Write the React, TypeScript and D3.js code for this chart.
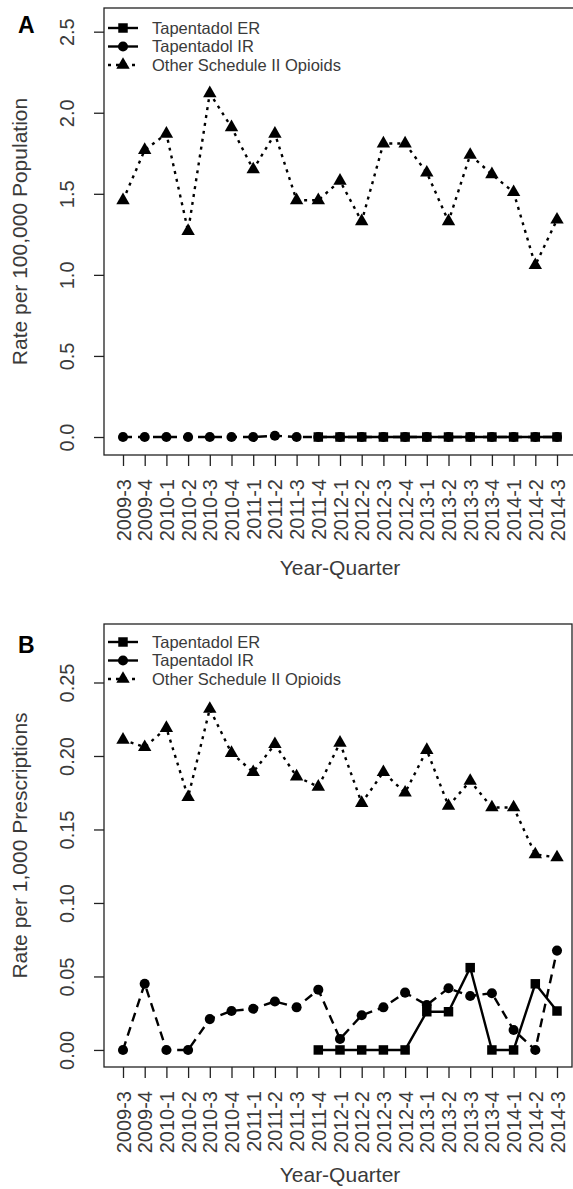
import { useEffect, useRef } from "react";
import * as d3 from "d3";

const quarters = [
  "2009-3", "2009-4", "2010-1", "2010-2", "2010-3", "2010-4", "2011-1",
  "2011-2", "2011-3", "2011-4", "2012-1", "2012-2", "2012-3", "2012-4",
  "2013-1", "2013-2", "2013-3", "2013-4", "2014-1", "2014-2", "2014-3",
];

// panel A: rate per 100,000 population
const popER = [null, null, null, null, null, null, null, null, null, 0, 0, 0, 0, 0, 0, 0, 0, 0, 0, 0, 0];
const popIR = [0, 0, 0, 0, 0, 0, 0, 0.008, 0, 0, 0, 0, 0, 0, 0, 0, 0, 0, 0, 0, 0];
const popOther = [1.46, 1.77, 1.87, 1.27, 2.12, 1.91, 1.65, 1.87, 1.46, 1.46, 1.58, 1.33, 1.81, 1.81, 1.63, 1.33, 1.74, 1.62, 1.51, 1.06, 1.34];
const popTicks = [0, 0.5, 1, 1.5, 2, 2.5];

// panel B: rate per 1,000 prescriptions
const rxER = [null, null, null, null, null, null, null, null, null, 0, 0, 0, 0, 0, 0.026, 0.026, 0.056, 0, 0, 0.045, 0.0265];
const rxIR = [0, 0.045, 0, 0, 0.021, 0.0265, 0.028, 0.033, 0.029, 0.041, 0.0075, 0.0236, 0.029, 0.039, 0.0306, 0.042, 0.0367, 0.0386, 0.0136, 0, 0.0676];
const rxOther = [0.211, 0.206, 0.219, 0.172, 0.232, 0.202, 0.189, 0.208, 0.186, 0.179, 0.209, 0.168, 0.189, 0.175, 0.204, 0.166, 0.183, 0.165, 0.165, 0.133, 0.131];
const rxTicks = [0, 0.05, 0.1, 0.15, 0.2, 0.25];

const seriesNames = ["Tapentadol ER", "Tapentadol IR", "Other Schedule II Opioids"];

const FONT = "'Liberation Sans', Arial, Helvetica, sans-serif";
const TEXT = "#3a3a3a";

function drawPanel(svg, opts) {
  const { top, bottom, right, letter, letterY, yDomain, yTicks, fmt, ylab, legendY, xlabY, series } = opts;
  const left = 104;
  const g = svg.append("g");

  const x = d3.scalePoint().domain(quarters).range([123, 557]);
  const y = d3.scaleLinear().domain(yDomain).range([bottom, top]);

  // box
  g.append("rect")
    .attr("x", left).attr("y", top)
    .attr("width", right - left).attr("height", bottom - top)
    .attr("fill", "none").attr("stroke", "#222").attr("stroke-width", 1.3);

  // y axis
  const ya = g.append("g").attr("transform", `translate(${left},0)`)
    .call(d3.axisLeft(y).tickValues(yTicks).tickSize(10).tickFormat(fmt));
  ya.select(".domain").remove();
  ya.selectAll("line").attr("stroke", "#222").attr("stroke-width", 1.3);
  ya.selectAll("text")
    .attr("transform", "rotate(-90)")
    .attr("x", 0).attr("y", -37).attr("dy", "0.35em")
    .attr("text-anchor", "middle")
    .attr("fill", TEXT).attr("font-size", 20).attr("font-family", FONT);

  // x axis
  const xa = g.append("g").attr("transform", `translate(0,${bottom})`)
    .call(d3.axisBottom(x).tickSize(11));
  xa.select(".domain").remove();
  xa.selectAll("line").attr("stroke", "#222").attr("stroke-width", 1.3);
  xa.selectAll("text")
    .attr("transform", "rotate(-90)")
    .attr("x", -24).attr("y", 0).attr("dy", "0.35em")
    .attr("text-anchor", "end")
    .attr("fill", TEXT).attr("font-size", 20).attr("font-family", FONT);

  g.append("text")
    .attr("x", 340).attr("y", xlabY)
    .attr("text-anchor", "middle")
    .attr("fill", TEXT).attr("font-size", 21).attr("font-family", FONT)
    .text("Year-Quarter");

  g.append("text")
    .attr("transform", `translate(20,${(top + bottom) / 2}) rotate(-90)`)
    .attr("dy", "0.35em")
    .attr("text-anchor", "middle")
    .attr("fill", TEXT).attr("font-size", 21).attr("font-family", FONT)
    .text(ylab);

  g.append("text")
    .attr("x", 18).attr("y", letterY)
    .attr("fill", "#000").attr("font-size", 23).attr("font-weight", "bold").attr("font-family", FONT)
    .text(letter);

  const styles = [
    { dash: null, sym: d3.symbolSquare, size: 90 },
    { dash: "9,6", sym: d3.symbolCircle, size: 80 },
    { dash: "3,5", sym: d3.symbolTriangle, size: 78 },
  ];

  series.forEach((vals, i) => {
    const st = styles[i];
    const pts = vals.map((v, k) => ({ q: quarters[k], v })).filter((d) => d.v !== null);
    const line = d3.line().x((d) => x(d.q)).y((d) => y(d.v));
    g.append("path")
      .datum(pts)
      .attr("fill", "none").attr("stroke", "#000").attr("stroke-width", 2.4)
      .attr("stroke-dasharray", st.dash)
      .attr("d", line);
  });
  series.forEach((vals, i) => {
    const st = styles[i];
    const pts = vals.map((v, k) => ({ q: quarters[k], v })).filter((d) => d.v !== null);
    g.selectAll(null).data(pts).enter().append("path")
      .attr("transform", (d) => `translate(${x(d.q)},${y(d.v)})`)
      .attr("d", d3.symbol().type(st.sym).size(st.size)())
      .attr("fill", "#000");
  });

  // legend
  styles.forEach((st, i) => {
    const ly = legendY + i * 18.5;
    g.append("line")
      .attr("x1", 108).attr("x2", 138).attr("y1", ly).attr("y2", ly)
      .attr("stroke", "#000").attr("stroke-width", 2.4)
      .attr("stroke-dasharray", i === 2 ? "3,5" : null);
    g.append("path")
      .attr("transform", `translate(123,${ly})`)
      .attr("d", d3.symbol().type(st.sym).size(st.size)())
      .attr("fill", "#000");
    g.append("text")
      .attr("x", 152).attr("y", ly).attr("dy", "0.35em")
      .attr("fill", TEXT).attr("font-size", 16.5).attr("font-family", FONT)
      .text(seriesNames[i]);
  });
}

export default function App() {
  const ref = useRef(null);

  useEffect(() => {
    if (!ref.current) return;
    const svg = d3.select(ref.current);
    svg.selectAll("*").remove();

    drawPanel(svg, {
      top: 8, bottom: 455, right: 576,
      letter: "A", letterY: 33,
      yDomain: [-0.111, 2.646], yTicks: popTicks, fmt: d3.format(".1f"),
      ylab: "Rate per 100,000 Population",
      legendY: 28, xlabY: 575,
      series: [popER, popIR, popOther],
    });

    drawPanel(svg, {
      top: 624, bottom: 1067, right: 572,
      letter: "B", letterY: 653,
      yDomain: [-0.0116, 0.2898], yTicks: rxTicks, fmt: d3.format(".2f"),
      ylab: "Rate per 1,000 Prescriptions",
      legendY: 642, xlabY: 1182,
      series: [rxER, rxIR, rxOther],
    });
  }, []);

  return (
    <svg
      ref={ref}
      width={573}
      height={1189}
      style={{ position: "absolute", left: 0, top: 0, background: "#fff" }}
    />
  );
}
